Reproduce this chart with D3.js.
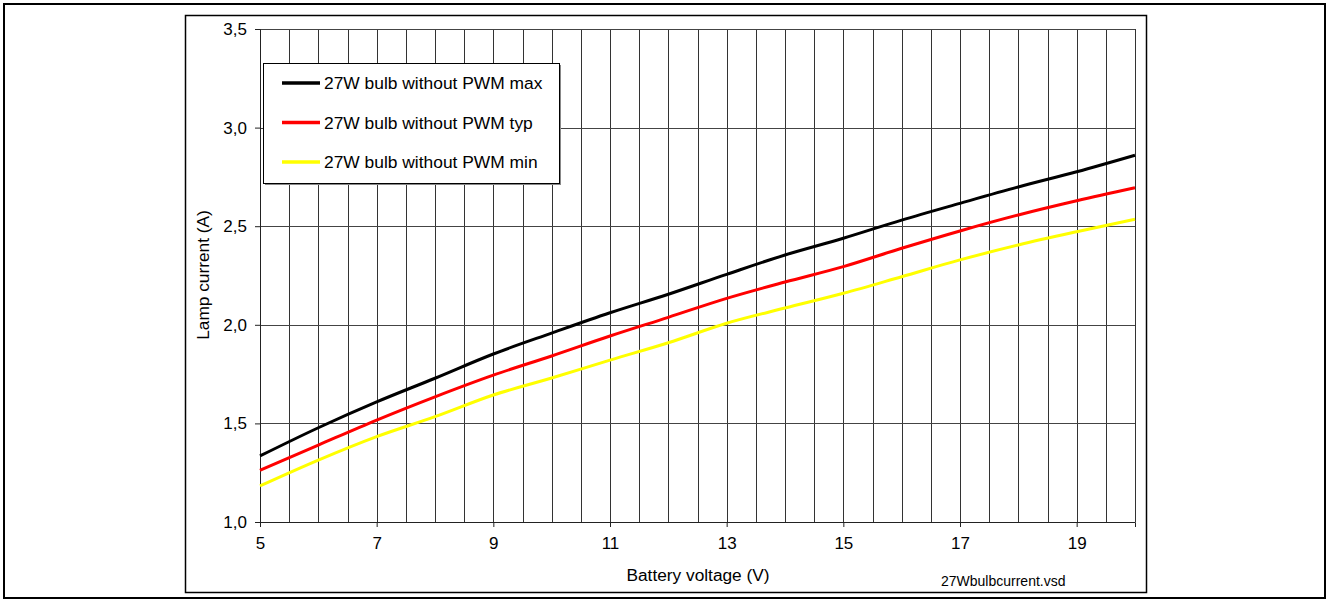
<!DOCTYPE html>
<html>
<head>
<meta charset="utf-8">
<script src="https://cdn.jsdelivr.net/npm/d3@7"></script>
<style>
  html, body { margin: 0; padding: 0; background: #fff; }
  svg { display: block; font-family: "Liberation Sans", Arial, sans-serif; }
</style>
</head>
<body>
<div id="chart"></div>
<script>
// Lamp current vs battery voltage, 27W bulb
const voltage = [5, 6, 7, 8, 9, 10, 11, 12, 13, 14, 15, 16, 17, 18, 19, 20];
const currentMax = [1.335, 1.478, 1.609, 1.729, 1.852, 1.958, 2.061, 2.155, 2.256, 2.354, 2.439, 2.531, 2.616, 2.699, 2.776, 2.860];
const currentTyp = [1.262, 1.390, 1.517, 1.635, 1.745, 1.842, 1.943, 2.038, 2.134, 2.217, 2.295, 2.388, 2.476, 2.557, 2.629, 2.695];
const currentMin = [1.183, 1.314, 1.433, 1.534, 1.644, 1.730, 1.821, 1.909, 2.008, 2.085, 2.160, 2.244, 2.329, 2.405, 2.472, 2.535];
const seriesNames = ['27W bulb without PWM max', '27W bulb without PWM typ', '27W bulb without PWM min'];
const seriesColors = ['#000000', '#ff0000', '#ffff00'];
const xTicks = [5, 7, 9, 11, 13, 15, 17, 19];
const xGrid = [5.5, 6, 6.5, 7, 7.5, 8, 8.5, 9, 9.5, 10, 10.5, 11, 11.5, 12, 12.5, 13, 13.5, 14, 14.5, 15, 15.5, 16, 16.5, 17, 17.5, 18, 18.5, 19, 19.5, 20];
const yTicks = [1.0, 1.5, 2.0, 2.5, 3.0, 3.5];

const width = 1329, height = 601;
const plot = { left: 260, top: 29, right: 1135, bottom: 522 };

const svg = d3.select('#chart').append('svg')
  .attr('width', width)
  .attr('height', height);

// page border and chart frame
svg.append('rect')
  .attr('x', 4).attr('y', 4).attr('width', 1321).attr('height', 594)
  .attr('fill', 'none').attr('stroke', '#000').attr('stroke-width', 2);
svg.append('rect')
  .attr('x', 185.5).attr('y', 15.5).attr('width', 961).attr('height', 577)
  .attr('fill', 'none').attr('stroke', '#000').attr('stroke-width', 1.5);

const x = d3.scaleLinear().domain([5, 20]).range([plot.left, plot.right]);
const y = d3.scaleLinear().domain([1, 3.5]).range([plot.bottom, plot.top]);

// grid
const grid = svg.append('g').attr('shape-rendering', 'crispEdges');
grid.selectAll('.vgrid').data(xGrid).join('line')
  .attr('x1', d => Math.round(x(d)) + 0.5).attr('x2', d => Math.round(x(d)) + 0.5)
  .attr('y1', plot.top).attr('y2', plot.bottom)
  .attr('stroke', '#333').attr('stroke-width', 1);
grid.selectAll('.hgrid').data(yTicks).join('line')
  .attr('x1', plot.left).attr('x2', plot.right)
  .attr('y1', d => Math.round(y(d)) + 0.5).attr('y2', d => Math.round(y(d)) + 0.5)
  .attr('stroke', '#444').attr('stroke-width', 1);

// axes
const fmt = d => d3.format('.1f')(d).replace('.', ',');
const yAxis = svg.append('g')
  .attr('transform', `translate(${plot.left},0)`)
  .call(d3.axisLeft(y).tickValues(yTicks).tickSize(5).tickPadding(8).tickFormat(fmt));
const xAxis = svg.append('g')
  .attr('transform', `translate(0,${plot.bottom})`)
  .call(d3.axisBottom(x).tickValues(xTicks).tickSize(5).tickPadding(10).tickFormat(d3.format('d')));
[xAxis, yAxis].forEach(a => {
  a.select('.domain').attr('stroke', '#222');
  a.selectAll('.tick line').attr('stroke', '#222');
  a.selectAll('.tick text')
    .attr('fill', '#000')
    .style('font-size', '17px')
    .style('font-family', '"Liberation Sans", Arial, sans-serif');
});

// curves
const rows = [currentMax, currentTyp, currentMin];
const line = d3.line()
  .x((d, i) => x(voltage[i]))
  .y(d => y(d))
  .curve(d3.curveMonotoneX);
svg.append('g').selectAll('path').data(rows).join('path')
  .attr('d', line)
  .attr('fill', 'none')
  .attr('stroke', (d, i) => seriesColors[i])
  .attr('stroke-width', 3);

// legend
const lg = svg.append('g');
lg.append('rect')
  .attr('x', 265).attr('y', 65).attr('width', 296).attr('height', 120)
  .attr('fill', '#888');
lg.append('rect')
  .attr('x', 263.5).attr('y', 63.5).attr('width', 296).attr('height', 120)
  .attr('fill', '#fff').attr('stroke', '#000').attr('stroke-width', 1);
const items = lg.selectAll('.item').data(seriesNames).join('g')
  .attr('transform', (d, i) => `translate(0,${83 + i * 39.5})`);
items.append('line')
  .attr('x1', 282).attr('x2', 320)
  .attr('stroke', (d, i) => seriesColors[i]).attr('stroke-width', 3.5);
items.append('text')
  .attr('x', 324).attr('y', 6)
  .style('font-size', '17.4px')
  .text(d => d);

// titles
svg.append('text')
  .attr('x', 698).attr('y', 581)
  .attr('text-anchor', 'middle')
  .style('font-size', '17.3px')
  .text('Battery voltage (V)');
svg.append('text')
  .attr('transform', 'translate(209,275) rotate(-90)')
  .attr('text-anchor', 'middle')
  .style('font-size', '17.3px')
  .text('Lamp current (A)');
svg.append('text')
  .attr('x', 941).attr('y', 586)
  .style('font-size', '14px')
  .text('27Wbulbcurrent.vsd');
</script>
</body>
</html>
